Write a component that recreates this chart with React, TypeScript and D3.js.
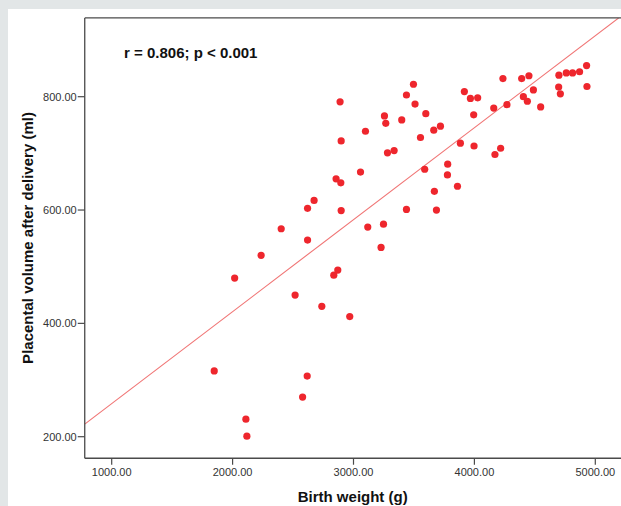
import React from "react";
import * as d3 from "d3";

// Birth weight (g)
const birthWeight = [
  2889, 3099, 2898, 3058, 2856, 2895, 2674, 2620, 2898, 2402, 2620, 3118,
  3496, 3438, 3509, 3256, 3267, 3399, 3598, 3664, 3719, 3554, 3281, 3336,
  3917, 3967, 4027, 3994, 4236, 4160, 4269, 4391, 4451, 4488, 4405, 4438,
  4548, 4699, 4760, 4812, 4870, 4928, 4697, 4711, 4931, 3884, 3997, 4170,
  4217, 3589, 3779, 3777, 3860, 3669, 3438, 3686, 3248, 3228,
  2236, 2017, 2870, 2837, 2517, 2738, 2969, 1848, 2617, 2579, 2110, 2118,
];
// Placental volume after delivery (ml)
const placentalVolume = [
  791, 739, 722, 667, 655, 648, 617, 603, 599, 567, 547, 570,
  822, 803, 787, 766, 753, 759, 770, 741, 748, 728, 701, 705,
  809, 797, 798, 768, 832, 780, 786, 832, 837, 812, 800, 792,
  782, 838, 842, 842, 844, 855, 817, 805, 818, 718, 713, 698,
  709, 672, 681, 662, 642, 633, 601, 600, 575, 534,
  520, 480, 494, 485, 450, 430, 412, 316, 307, 270, 231, 201,
];
const xTicks = [1000, 2000, 3000, 4000, 5000];
const yTicks = [200, 400, 600, 800];
const regIntercept = 96.1;
const regSlope = 0.1623;
const xDomainMin = 777;
const xDomainMax = 5215;
const yDomainMin = 162;
const yDomainMax = 939;
const annotation = "r = 0.806; p < 0.001";
const xTitle = "Birth weight (g)";
const yTitle = "Placental volume after delivery (ml)";

export default function App() {
  const W = 621;
  const H = 506;
  const x = d3.scaleLinear().domain([1000, 5000]).range([111.7, 595.3]);
  const y = d3.scaleLinear().domain([200, 800]).range([436.7, 96.7]);
  const left = x(xDomainMin);
  const right = x(xDomainMax);
  const top = y(yDomainMax);
  const bottom = y(yDomainMin);
  const font = "'Liberation Sans', Arial, Helvetica, sans-serif";
  const points = birthWeight.map((g, i) => ({ g, v: placentalVolume[i] }));
  const lineGen = d3
    .line<number>()
    .x((g) => x(g))
    .y((g) => y(regIntercept + regSlope * g));
  const lineXs = [xDomainMin, xDomainMax + 200];

  return (
    <div style={{ position: "absolute", left: 0, top: 0 }}>
      <svg width={W} height={H} style={{ display: "block" }}>
        <defs>
          <clipPath id="plotClip">
            <rect x={left} y={top} width={right - left + 50} height={bottom - top} />
          </clipPath>
        </defs>
        <rect x={0} y={0} width={W} height={H} fill="#e2e6e7" />
        <rect x={8} y={9} width={W - 8} height={H - 9} fill="#ffffff" />

        <g clipPath="url(#plotClip)">
          <path
            d={lineGen(lineXs) || ""}
            fill="none"
            stroke="#f07474"
            strokeWidth={1.1}
          />
          {points.map((p, i) => (
            <circle key={i} cx={x(p.g)} cy={y(p.v)} r={3.6} fill="#ee262d" />
          ))}
        </g>

        {/* frame */}
        <line x1={left} x2={W} y1={top} y2={top} stroke="#4a4a4a" strokeWidth={1.3} />
        <line x1={left} x2={W} y1={bottom} y2={bottom} stroke="#4a4a4a" strokeWidth={1.3} />
        <line x1={left} x2={left} y1={top} y2={bottom} stroke="#4a4a4a" strokeWidth={1.3} />

        {/* x ticks */}
        {xTicks.map((t) => (
          <g key={t}>
            <line x1={x(t)} x2={x(t)} y1={bottom} y2={bottom + 6.5} stroke="#4a4a4a" strokeWidth={1.2} />
            <text
              x={x(t)}
              y={bottom + 18}
              textAnchor="middle"
              fontFamily={font}
              fontSize={11}
              fill="#333"
            >
              {t.toFixed(2)}
            </text>
          </g>
        ))}

        {/* y ticks */}
        {yTicks.map((t) => (
          <g key={t}>
            <line x1={left - 7} x2={left} y1={y(t)} y2={y(t)} stroke="#4a4a4a" strokeWidth={1.2} />
            <text
              x={left - 8}
              y={y(t)}
              dy="0.35em"
              textAnchor="end"
              fontFamily={font}
              fontSize={11}
              fill="#333"
            >
              {t.toFixed(2)}
            </text>
          </g>
        ))}

        <text
          x={124}
          y={57.5}
          fontFamily={font}
          fontSize={15}
          fontWeight="bold"
          fill="#111"
        >
          {annotation}
        </text>

        <text
          x={352.7}
          y={501.5}
          textAnchor="middle"
          fontFamily={font}
          fontSize={15}
          fontWeight="bold"
          fill="#111"
        >
          {xTitle}
        </text>

        <text
          transform={`translate(32.5, 238) rotate(-90)`}
          textAnchor="middle"
          fontFamily={font}
          fontSize={15}
          fontWeight="bold"
          fill="#111"
        >
          {yTitle}
        </text>
      </svg>
    </div>
  );
}
